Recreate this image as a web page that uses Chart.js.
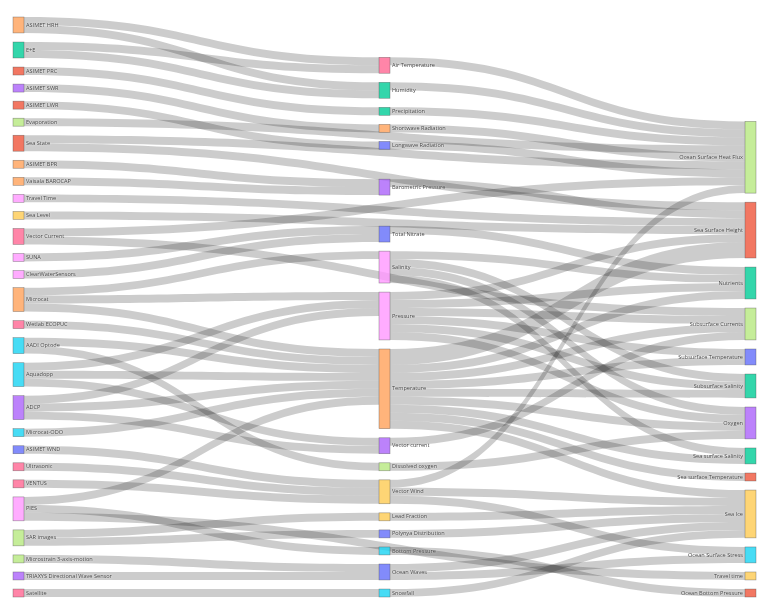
<!DOCTYPE html>
<html>
<head>
<meta charset="utf-8">
<title>Sensors to ocean variables</title>
<script src="https://cdn.jsdelivr.net/npm/chart.js@4.4.1/dist/chart.umd.min.js"></script>
<style>
  html, body { margin: 0; padding: 0; background: #fff; }
  #wrap { width: 768px; height: 615px; }
</style>
</head>
<body>
<div id="wrap"><canvas id="sankey"></canvas></div>
<script>
// ---------- nodes, one list per column (top to bottom) ----------
const sensors = [
  'ASIMET HRH', 'E+E', 'ASIMET PRC', 'ASIMET SWR', 'ASIMET LWR', 'Evaporation',
  'Sea State', 'ASIMET BPR', 'Vaisala BAROCAP', 'Travel Time', 'Sea Level',
  'Vector Current', 'SUNA', 'ClearWaterSensors', 'Microcat', 'Wetlab ECOPUC',
  'AADI Optode', 'Aquadopp', 'ADCP', 'Microcat-ODO', 'ASIMET WND', 'Ultrasonic',
  'VENTUS', 'PIES', 'SAR images', 'Microstrain 3-axis-motion',
  'TRIAXYS Directional Wave Sensor', 'Satellite'
];
const sensorColors = [
  'orange', 'green', 'red', 'purple', 'red', 'lime', 'red', 'orange', 'orange',
  'magenta', 'yellow', 'pink', 'magenta', 'magenta', 'orange', 'pink', 'cyan',
  'cyan', 'purple', 'cyan', 'blue', 'pink', 'pink', 'magenta', 'lime', 'lime',
  'purple', 'pink'
];

const measurements = [
  'Air Temperature', 'Humidity', 'Precipitation', 'Shortwave Radiation',
  'Longwave Radiation', 'Barometric Pressure', 'Total Nitrate', 'Salinity',
  'Pressure', 'Temperature', 'Vector current', 'Dissolved oxygen', 'Vector Wind',
  'Lead Fraction', 'Polynya Distribution', 'Bottom Pressure', 'Ocean Waves', 'Snowfall'
];
const measurementColors = [
  'pink', 'green', 'green', 'orange', 'blue', 'purple', 'blue', 'magenta',
  'magenta', 'orange', 'purple', 'lime', 'yellow', 'yellow', 'blue', 'cyan',
  'blue', 'cyan'
];

const variables = [
  'Ocean Surface Heat Flux', 'Sea Surface Height', 'Nutrients', 'Subsurface Currents',
  'Subsurface Temperature', 'Subsurface Salinity', 'Oxygen', 'Sea surface Salinity',
  'Sea surface Temperature', 'Sea Ice', 'Ocean Surface Stress', 'Travel time',
  'Ocean Bottom Pressure'
];
const variableColors = [
  'lime', 'red', 'green', 'lime', 'blue', 'green', 'purple', 'green', 'red',
  'yellow', 'cyan', 'yellow', 'red'
];

// ---------- links ----------
const linkSource = [
  'ASIMET HRH', 'ASIMET HRH', 'E+E', 'E+E', 'ASIMET PRC', 'ASIMET SWR', 'ASIMET LWR',
  'Evaporation', 'Sea State', 'Sea State', 'ASIMET BPR', 'Vaisala BAROCAP',
  'Travel Time', 'Sea Level', 'Vector Current', 'Vector Current', 'SUNA',
  'ClearWaterSensors', 'Microcat', 'Microcat', 'Microcat', 'Wetlab ECOPUC',
  'AADI Optode', 'AADI Optode', 'Aquadopp', 'Aquadopp', 'Aquadopp', 'ADCP', 'ADCP',
  'ADCP', 'Microcat-ODO', 'ASIMET WND', 'Ultrasonic', 'VENTUS', 'PIES', 'PIES', 'PIES',
  'SAR images', 'SAR images', 'Microstrain 3-axis-motion',
  'TRIAXYS Directional Wave Sensor', 'Satellite',
  'Air Temperature', 'Humidity', 'Precipitation', 'Shortwave Radiation',
  'Longwave Radiation', 'Barometric Pressure', 'Total Nitrate',
  'Salinity', 'Salinity', 'Salinity', 'Salinity',
  'Pressure', 'Pressure', 'Pressure', 'Pressure', 'Pressure', 'Pressure',
  'Temperature', 'Temperature', 'Temperature', 'Temperature', 'Temperature',
  'Temperature', 'Temperature', 'Temperature', 'Temperature',
  'Vector current', 'Dissolved oxygen', 'Vector Wind', 'Vector Wind', 'Vector Wind',
  'Lead Fraction', 'Polynya Distribution', 'Bottom Pressure', 'Ocean Waves',
  'Ocean Waves', 'Snowfall'
];
const linkTarget = [
  'Air Temperature', 'Humidity', 'Air Temperature', 'Humidity', 'Precipitation',
  'Shortwave Radiation', 'Longwave Radiation',
  'Ocean Surface Heat Flux', 'Ocean Surface Heat Flux', 'Sea Surface Height',
  'Barometric Pressure', 'Barometric Pressure',
  'Sea Surface Height', 'Sea Surface Height', 'Ocean Surface Heat Flux',
  'Subsurface Currents', 'Total Nitrate',
  'Total Nitrate', 'Salinity', 'Pressure', 'Temperature', 'Temperature',
  'Temperature', 'Dissolved oxygen', 'Pressure', 'Temperature', 'Vector current',
  'Pressure', 'Temperature',
  'Vector current', 'Temperature', 'Vector Wind', 'Vector Wind', 'Vector Wind',
  'Temperature', 'Bottom Pressure', 'Travel time',
  'Lead Fraction', 'Polynya Distribution', 'Ocean Waves',
  'Ocean Waves', 'Snowfall',
  'Ocean Surface Heat Flux', 'Ocean Surface Heat Flux', 'Ocean Surface Heat Flux',
  'Ocean Surface Heat Flux', 'Ocean Surface Heat Flux', 'Sea Surface Height', 'Nutrients',
  'Nutrients', 'Subsurface Salinity', 'Oxygen', 'Sea surface Salinity',
  'Sea Surface Height', 'Nutrients', 'Subsurface Currents', 'Subsurface Temperature',
  'Subsurface Salinity', 'Oxygen',
  'Sea Surface Height', 'Nutrients', 'Subsurface Currents', 'Subsurface Temperature',
  'Subsurface Salinity', 'Oxygen', 'Sea surface Salinity', 'Sea surface Temperature',
  'Sea Ice',
  'Subsurface Currents', 'Oxygen', 'Ocean Surface Heat Flux', 'Sea Ice',
  'Ocean Surface Stress', 'Sea Ice', 'Sea Ice', 'Ocean Bottom Pressure', 'Sea Ice',
  'Ocean Surface Stress', 'Sea Ice'
];
const linkValue = [
  1, 1, 1, 1, 1, 1, 1,
  1, 1, 1, 1, 1,
  1, 1, 1, 1, 1,
  1, 1, 1, 1, 1,
  1, 1, 1, 1, 1, 1, 1,
  1, 1, 1, 1, 1, 1, 1, 1,
  1, 1, 1, 1, 1,
  1, 1, 1, 1, 1, 1, 1,
  1, 1, 1, 1,
  1, 1, 1, 1, 1, 1,
  2, 1, 1, 1, 1, 1, 1, 1, 1,
  1, 1, 1, 1, 1, 1, 1, 1, 1,
  1, 1
];

// ---------- look ----------
const PALETTE = {
  blue: '#636efa', red: '#ef553b', green: '#00cc96', purple: '#ab63fa',
  orange: '#ffa15a', cyan: '#19d3f3', pink: '#ff6692', lime: '#b6e880',
  magenta: '#ff97ff', yellow: '#fecb52'
};
const NODE_PAD = 1.14;      // gap between nodes, in flow units
const ITERATIONS = 50;

const withAlpha = (hex, a) => {
  const n = parseInt(hex.slice(1), 16);
  return `rgba(${n >> 16},${(n >> 8) & 255},${n & 255},${a})`;
};
const total = list => list.reduce((s, l) => s + l.value, 0);

// ---------- sankey layout (flow units, fixed node order) ----------
function buildLayout() {
  const cols = [[sensors, sensorColors], [measurements, measurementColors], [variables, variableColors]];
  const byName = {};
  const columns = cols.map(([names, colors], c) => names.map((name, i) => {
    const n = { name, col: c, color: PALETTE[colors[i]], sourceLinks: [], targetLinks: [] };
    byName[name] = n;
    return n;
  }));
  const nodes = columns.flat();
  const links = linkSource.map((s, i) => ({ source: byName[s], target: byName[linkTarget[i]], value: linkValue[i] }));
  links.forEach(l => { l.source.sourceLinks.push(l); l.target.targetLinks.push(l); });
  nodes.forEach(n => { n.value = Math.max(total(n.sourceLinks), total(n.targetLinks)); });

  const height = Math.max(...columns.map(col => total(col) + (col.length - 1) * NODE_PAD));
  const center = n => (n.y0 + n.y1) / 2;

  const resolve = () => columns.forEach(col => {
    let y = 0, node;
    col.forEach(n => {
      const dy = y - n.y0;
      if (dy > 0) { n.y0 += dy; n.y1 += dy; }
      y = n.y1 + NODE_PAD;
    });
    let dy = y - NODE_PAD - height;
    if (dy > 0) {
      node = col[col.length - 1];
      node.y0 -= dy; node.y1 -= dy;
      y = node.y0;
      for (let i = col.length - 2; i >= 0; i--) {
        node = col[i];
        dy = node.y1 + NODE_PAD - y;
        if (dy > 0) { node.y0 -= dy; node.y1 -= dy; }
        y = node.y0;
      }
    }
  });
  const relaxLR = alpha => columns.forEach(col => col.forEach(n => {
    if (!n.targetLinks.length) return;
    const w = n.targetLinks.reduce((s, l) => s + center(l.source) * l.value, 0) / total(n.targetLinks);
    const dy = (w - center(n)) * alpha;
    n.y0 += dy; n.y1 += dy;
  }));
  const relaxRL = alpha => columns.slice().reverse().forEach(col => col.forEach(n => {
    if (!n.sourceLinks.length) return;
    const w = n.sourceLinks.reduce((s, l) => s + center(l.target) * l.value, 0) / total(n.sourceLinks);
    const dy = (w - center(n)) * alpha;
    n.y0 += dy; n.y1 += dy;
  }));

  columns.forEach(col => col.forEach((n, i) => { n.y0 = i; n.y1 = i + n.value; }));
  resolve();
  let alpha = 1;
  for (let k = 0; k < ITERATIONS; k++) {
    alpha *= 0.99;
    relaxRL(alpha); resolve();
    relaxLR(alpha); resolve();
  }

  nodes.forEach(n => {
    n.sourceLinks.sort((a, b) => a.target.y0 - b.target.y0);
    n.targetLinks.sort((a, b) => a.source.y0 - b.source.y0);
    let y = n.y0;
    n.sourceLinks.forEach(l => { l.sy = y; y += l.value; });
    y = n.y0;
    n.targetLinks.forEach(l => { l.ty = y; y += l.value; });
  });
  return { nodes, links, height };
}

const layout = buildLayout();

// ---------- drawing plugin (uses the chart's x/y scales) ----------
const sankeyDraw = {
  id: 'sankeyDraw',
  afterDatasetsDraw(chart, _args, opts) {
    const { ctx } = chart;
    const { x, y } = chart.scales;
    const w = opts.nodeWidth;

    ctx.save();
    ctx.fillStyle = opts.linkColor;
    layout.links.forEach(l => {
      const x0 = x.getPixelForValue(l.source.col) + w;
      const x1 = x.getPixelForValue(l.target.col);
      const xm = (x0 + x1) / 2;
      const s0 = y.getPixelForValue(l.sy), s1 = y.getPixelForValue(l.sy + l.value);
      const t0 = y.getPixelForValue(l.ty), t1 = y.getPixelForValue(l.ty + l.value);
      ctx.beginPath();
      ctx.moveTo(x0, s0);
      ctx.bezierCurveTo(xm, s0, xm, t0, x1, t0);
      ctx.lineTo(x1, t1);
      ctx.bezierCurveTo(xm, t1, xm, s1, x0, s1);
      ctx.closePath();
      ctx.fill();
    });

    layout.nodes.forEach(n => {
      const nx = x.getPixelForValue(n.col);
      const top = y.getPixelForValue(n.y0), bot = y.getPixelForValue(n.y1);
      ctx.fillStyle = withAlpha(n.color, 0.8);
      ctx.fillRect(nx, top, w, bot - top);
      ctx.strokeStyle = 'rgba(68,68,68,0.55)';
      ctx.lineWidth = 0.6;
      ctx.strokeRect(nx, top, w, bot - top);
    });

    ctx.font = opts.font;
    ctx.textBaseline = 'middle';
    ctx.shadowColor = '#fff';
    ctx.shadowBlur = 1.5;
    ctx.fillStyle = '#444';
    layout.nodes.forEach(n => {
      const nx = x.getPixelForValue(n.col);
      const cy = y.getPixelForValue((n.y0 + n.y1) / 2);
      if (n.col === 2) {
        ctx.textAlign = 'right';
        ctx.fillText(n.name, nx - 2, cy);
      } else {
        ctx.textAlign = 'left';
        ctx.fillText(n.name, nx + w + 2, cy);
      }
    });
    ctx.restore();
  }
};

new Chart(document.getElementById('sankey'), {
  type: 'scatter',
  data: { datasets: [{ data: [] }] },
  plugins: [sankeyDraw],
  options: {
    responsive: true,
    maintainAspectRatio: false,
    animation: false,
    layout: { padding: { left: 13, right: 23, top: 17, bottom: 18 } },
    scales: {
      x: { type: 'linear', min: 0, max: 2, display: false },
      y: { type: 'linear', min: 0, max: layout.height, reverse: true, display: false }
    },
    plugins: {
      legend: { display: false },
      tooltip: { enabled: false },
      sankeyDraw: {
        nodeWidth: 11,
        linkColor: 'rgba(0,0,0,0.2)',
        font: '5.6px "Open Sans", sans-serif'
      }
    }
  }
});
</script>
</body>
</html>
